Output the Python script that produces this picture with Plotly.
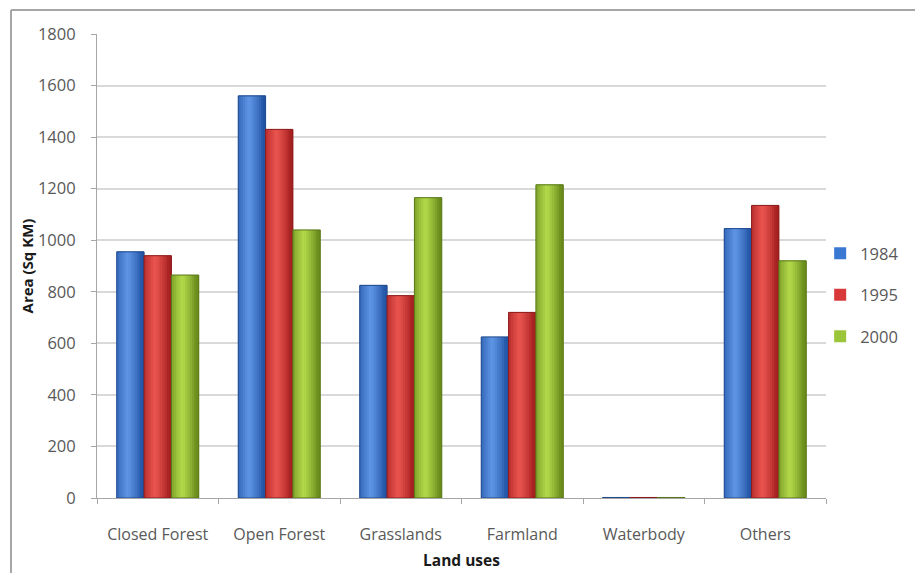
import plotly.graph_objects as go

# Land-use areas (sq km) by year
categories = ["Closed Forest", "Open Forest", "Grasslands", "Farmland", "Waterbody", "Others"]
years = ["1984", "1995", "2000"]
area_1984 = [955, 1560, 825, 625, 2, 1045]
area_1995 = [940, 1430, 785, 720, 2, 1135]
area_2000 = [865, 1040, 1165, 1215, 2, 920]
y_ticks = [0, 200, 400, 600, 800, 1000, 1200, 1400, 1600, 1800]

series = [area_1984, area_1995, area_2000]
# (dark edge, light highlight, legend/base) colours per year
palette = [
    ((35, 85, 165), (95, 150, 230), "#3b78d2"),
    ((165, 32, 32), (235, 85, 80), "#d83a3a"),
    ((105, 140, 28), (180, 218, 75), "#9cc63a"),
]

BAR_W = 0.225
GROUP_START = -0.3375
N_STRIPS = 12

W, H = 915, 573
L, R, T, B = 97, 89, 34, 75
plot_w = W - L - R
plot_h = H - T - B


def mix(c1, c2, f):
    return "rgb({},{},{})".format(*[int(round(a + (b - a) * f)) for a, b in zip(c1, c2)])


fig = go.Figure()

for i, (vals, year, (dark, light, base)) in enumerate(zip(series, years, palette)):
    off = GROUP_START + i * BAR_W
    # solid bar (also supplies the legend swatch)
    fig.add_trace(go.Bar(
        x=categories, y=vals, name=year, offset=off, width=BAR_W,
        marker=dict(color=base, line=dict(width=0)),
        legendgroup=year,
    ))
    # cylinder-style shading made of overlapping vertical strips
    sw = BAR_W / N_STRIPS
    for k in range(N_STRIPS):
        t = (k + 0.5) / N_STRIPS
        f = max(0.0, 1.0 - abs(t - 0.4) * 2.0) ** 0.8
        w = sw * 1.8 if k < N_STRIPS - 1 else sw
        fig.add_trace(go.Bar(
            x=categories, y=vals, offset=off + k * sw, width=w,
            marker=dict(color=mix(dark, light, f), line=dict(width=0)),
            showlegend=False, hoverinfo="skip", legendgroup=year,
        ))
    # thin dark outline
    fig.add_trace(go.Bar(
        x=categories, y=vals, offset=off, width=BAR_W,
        marker=dict(color="rgba(0,0,0,0)",
                    line=dict(width=1, color=mix(dark, (0, 0, 0), 0.15))),
        showlegend=False, hoverinfo="skip", legendgroup=year,
    ))

# frame lines on the left and top of the chart area
x_left = (11 - L) / plot_w
y_top = 1 + (T - 10) / plot_h
y_bot = -(B + 2) / plot_h
frame = dict(type="line", xref="paper", yref="paper",
             line=dict(color="#a6a6a6", width=2))
fig.add_shape(**frame, x0=x_left, x1=x_left, y0=y_bot, y1=y_top)
fig.add_shape(**frame, x0=x_left, x1=1 + (W + 5 - L - plot_w) / plot_w, y0=y_top, y1=y_top)

FONT = "'Open Sans', Lato, sans-serif"

fig.update_layout(
    width=W, height=H,
    margin=dict(l=L, r=R, t=T, b=B, autoexpand=False),
    paper_bgcolor="white", plot_bgcolor="white",
    barmode="overlay",
    font=dict(family=FONT, color="#595959"),
    showlegend=True,
    legend=dict(
        x=0.992, xanchor="left", y=0.4375, yanchor="middle",
        font=dict(size=16.5, color="#595959"),
        tracegroupgap=17, itemwidth=30,
        bgcolor="rgba(0,0,0,0)",
    ),
    xaxis=dict(
        type="category", range=[-0.5, 5.5],
        showgrid=False, showline=True, linecolor="#a6a6a6", linewidth=1,
        ticks="outside", tickson="boundaries", ticklen=5, tickcolor="#a6a6a6",
        tickfont=dict(size=16, color="#595959"),
        ticklabelstandoff=22, automargin=False,
        title=dict(text="<b>Land uses</b>", font=dict(size=15.5, color="#1a1a1a"), standoff=10),
    ),
    yaxis=dict(
        range=[0, 1800], tickvals=y_ticks,
        showgrid=True, gridcolor="#d9d9d9", gridwidth=1.5,
        showline=True, linecolor="#a6a6a6", linewidth=1,
        ticks="outside", ticklen=5, tickcolor="#a6a6a6",
        tickfont=dict(size=16.5, color="#595959"),
        ticklabelstandoff=12, zeroline=False, automargin=False,
        title=dict(text="<b>Area (Sq KM)</b>", font=dict(size=15, color="#1a1a1a"), standoff=0),
    ),
)

fig.write_html("out.html")
